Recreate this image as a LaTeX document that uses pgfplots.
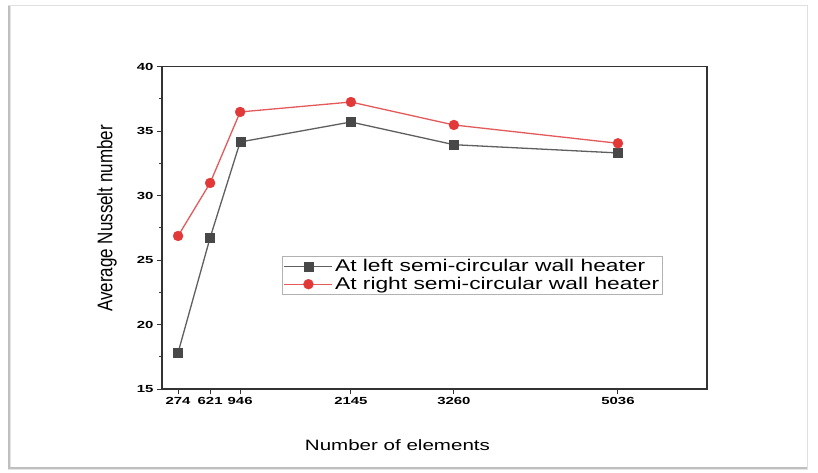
\documentclass[border=0pt]{standalone}
\usepackage{fontspec}
\setmainfont{Liberation Sans}
\usepackage{pgfplots}
\pgfplotsset{compat=1.18}

% horizontally widened text
\newcommand{\sx}[2]{\scalebox{#1}[1]{#2}}
\newcommand{\tl}[1]{\sx{1.45}{\bfseries #1}}

\definecolor{leftc}{RGB}{72,72,72}
\definecolor{leftline}{RGB}{95,95,95}
\definecolor{rightc}{RGB}{226,56,56}
\definecolor{rightline}{RGB}{228,90,90}

\pgfplotstableread{
n     left   right
274   17.82  26.87
621   26.74  30.98
946   34.16  36.49
2145  35.71  37.26
3260  33.95  35.48
5036  33.31  34.06
}\nusselt

\begin{document}
\begin{tikzpicture}[x=1pt,y=1pt]
\useasboundingbox (0,0) rectangle (818,472);
% page frame with a soft shadow on the left and bottom
\fill[white] (8,3) rectangle (808,467);
\draw[black!10, line width=3] (9.5,3) -- (9.5,466);
\draw[black!25, line width=1.2] (9,3) -- (9,466);
\draw[black!10, line width=3] (8,3.5) -- (808,3.5);
\draw[black!25, line width=1.2] (8,4) -- (808,4);
\draw[black!12, line width=0.8] (8,466.5) -- (808,466.5);
\draw[black!12, line width=0.8] (807.5,3) -- (807.5,467);

\begin{axis}[
  at={(162pt,83pt)}, anchor=south west,
  scale only axis, width=545pt, height=322.3pt,
  xmin=100, xmax=6000, ymin=15, ymax=40,
  xtick={274,621,946,2145,3260,5036},
  xticklabels={\tl{274},\tl{621},\tl{946},\tl{2145},\tl{3260},\tl{5036}},
  ytick={15,20,25,30,35,40},
  yticklabels={\tl{15},\tl{20},\tl{25},\tl{30},\tl{35},\tl{40}},
  minor ytick={17.5,22.5,27.5,32.5,37.5},
  tick pos=left, tick align=outside,
  major tick length=5pt, minor tick length=3pt,
  axis line style={line width=1.3pt, black!80},
  every tick/.style={black!80, line width=1pt},
  tick label style={font=\fontsize{10.3}{11}\selectfont},
  xlabel={\sx{1.37}{Number of elements}},
  ylabel={\scalebox{1}[1.25]{Average Nusselt number}},
  xlabel style={font=\fontsize{15}{18}\selectfont, at={(axis description cs:0.432,-0.174)}, anchor=center},
  ylabel style={font=\fontsize{17}{20}\selectfont, at={(axis description cs:-0.101,0.529)}, anchor=center},
  legend style={at={(0.22,0.414)}, anchor=north west, draw=black!30, line width=0.8pt,
    font=\fontsize{17}{19}\selectfont, inner sep=1.5pt, row sep=0pt,
    nodes={inner sep=2pt}},
  legend cell align=left,
  legend image code/.code={\draw[mark repeat=2,mark phase=2] plot coordinates {(0pt,0pt) (24pt,0pt) (48pt,0pt)};},
]
\addplot[leftline, line width=1.3pt, mark=square*, mark size=4.5pt,
  mark options={fill=leftc, draw=leftc, line width=0.3pt}]
  table[x=n, y=left] {\nusselt};
\addlegendentry{\sx{1.34}{At left semi-circular wall heater}}
\addplot[rightline, line width=1.3pt, mark=*, mark size=5pt,
  mark options={fill=rightc, draw=rightc, line width=0.3pt}]
  table[x=n, y=right] {\nusselt};
\addlegendentry{\sx{1.34}{At right semi-circular wall heater}}
\end{axis}
\end{tikzpicture}
\end{document}
